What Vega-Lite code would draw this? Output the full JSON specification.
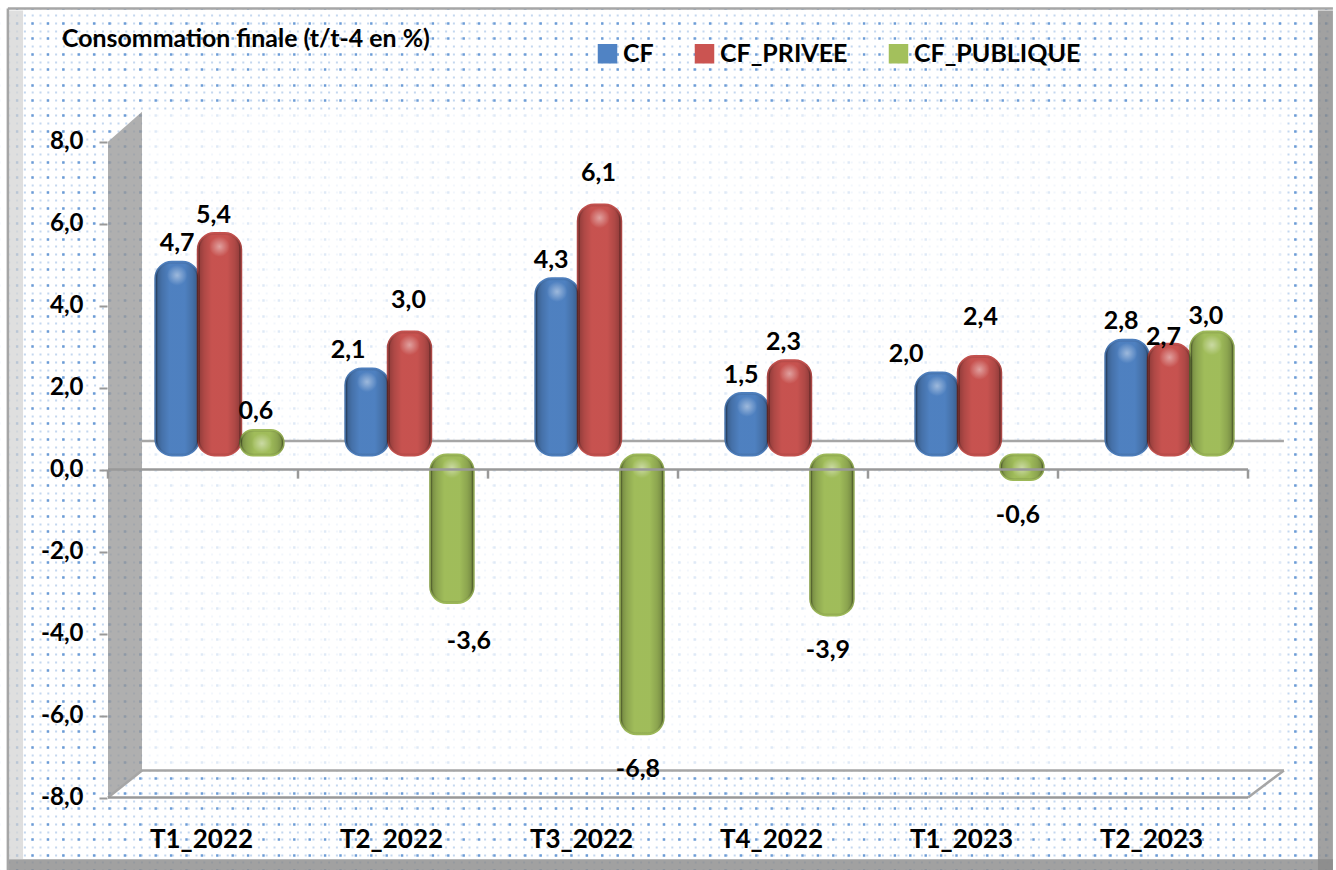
{
"$schema":"https://vega.github.io/schema/vega-lite/v6.json",
"width":1336,"height":870,"padding":0,"autosize":"none","background":"#ffffff",
"title":{"text":"Consommation finale (t/t-4 en %)","anchor":"start","frame":"group","dx":62,"offset":-65,"fontSize":24.9,"font":"Lato","fontWeight":"bold","baseline":"middle","color":"#000000"},
"config":{"view":{"stroke":null},"text":{"font":"Lato","fontWeight":"bold","fontSize":25,"color":"#000000","baseline":"middle","align":"center"}},
"datasets":{
"obs":[
{"period":"T1_2022","series":"CF","value":4.7,"label":"4,7"},
{"period":"T1_2022","series":"CF_PRIVEE","value":5.4,"label":"5,4"},
{"period":"T1_2022","series":"CF_PUBLIQUE","value":0.6,"label":"0,6"},
{"period":"T2_2022","series":"CF","value":2.1,"label":"2,1"},
{"period":"T2_2022","series":"CF_PRIVEE","value":3.0,"label":"3,0"},
{"period":"T2_2022","series":"CF_PUBLIQUE","value":-3.6,"label":"-3,6"},
{"period":"T3_2022","series":"CF","value":4.3,"label":"4,3"},
{"period":"T3_2022","series":"CF_PRIVEE","value":6.1,"label":"6,1"},
{"period":"T3_2022","series":"CF_PUBLIQUE","value":-6.8,"label":"-6,8"},
{"period":"T4_2022","series":"CF","value":1.5,"label":"1,5"},
{"period":"T4_2022","series":"CF_PRIVEE","value":2.3,"label":"2,3"},
{"period":"T4_2022","series":"CF_PUBLIQUE","value":-3.9,"label":"-3,9"},
{"period":"T1_2023","series":"CF","value":2.0,"label":"2,0"},
{"period":"T1_2023","series":"CF_PRIVEE","value":2.4,"label":"2,4"},
{"period":"T1_2023","series":"CF_PUBLIQUE","value":-0.6,"label":"-0,6"},
{"period":"T2_2023","series":"CF","value":2.8,"label":"2,8"},
{"period":"T2_2023","series":"CF_PRIVEE","value":2.7,"label":"2,7"},
{"period":"T2_2023","series":"CF_PUBLIQUE","value":3.0,"label":"3,0"}
],
"panels":[
{"part":"margin","x":-0.568,"x2":-0.527,"y":-9.776,"y2":11.459},
{"part":"margin","x":-0.568,"x2":6.463,"y":11.25,"y2":11.459},
{"part":"margin","x":6.447,"x2":6.463,"y":-9.776,"y2":11.459},
{"part":"left","x":-0.521,"x2":-0.447,"y":-9.5,"y2":11.2},
{"part":"right","x":6.368,"x2":6.447,"y":-9.776,"y2":11.2},
{"part":"bottom","x":-0.521,"x2":6.447,"y":-9.776,"y2":-9.507},
{"part":"wall","x":0.179,"x2":6.189,"y":-7.34,"y2":8.73}
],
"side":[{"x":0,"y":8,"y2":-8},{"x":0.179,"y":8.73,"y2":-7.34}],
"edges":[
{"part":"frame","x":-0.527,"x2":-0.527,"y":-9.776,"y2":11.25},
{"part":"frame","x":-0.527,"x2":6.447,"y":11.25,"y2":11.25},
{"part":"back","x":0.179,"x2":6.189,"y":0.698,"y2":0.698},
{"part":"back","x":0.179,"x2":6.189,"y":-7.34,"y2":-7.34},
{"part":"back","x":6,"x2":6.189,"y":-8,"y2":-7.34},
{"part":"back","x":0,"x2":0.179,"y":-8,"y2":-7.34},
{"part":"front","x":0,"x2":6,"y":0,"y2":0},
{"part":"front","x":0,"x2":6,"y":-8,"y2":-8},
{"part":"front","x":0,"x2":0,"y":0,"y2":-0.22},
{"part":"front","x":1,"x2":1,"y":0,"y2":-0.22},
{"part":"front","x":2,"x2":2,"y":0,"y2":-0.22},
{"part":"front","x":3,"x2":3,"y":0,"y2":-0.22},
{"part":"front","x":4,"x2":4,"y":0,"y2":-0.22},
{"part":"front","x":5,"x2":5,"y":0,"y2":-0.22},
{"part":"front","x":6,"x2":6,"y":0,"y2":-0.22}
]
},
"resolve":{"scale":{"x":"independent","y":"independent","xOffset":"independent","color":"independent","stroke":"independent"}},
"layer":[
{"data":{"name":"edges"},"mark":{"type":"rule","opacity":0},
 "encoding":{"y":{"field":"y","type":"quantitative","scale":{"domain":[0,1130],"range":[870,0]},
 "axis":{"orient":"left","grid":true,"gridColor":"#c4d7ef","gridWidth":2,"gridDash":[2,5.8],"domain":false,"ticks":false,"labels":false,"title":null,"tickCount":113}}}},
{"data":{"name":"edges"},"mark":{"type":"rule","opacity":0},
 "encoding":{"y":{"field":"y","type":"quantitative","scale":{"domain":[0,565],"range":[870,0]},
 "axis":{"orient":"left","grid":true,"gridColor":"#6c9cd6","gridWidth":2.4,"gridDash":[2.4,13],"domain":false,"ticks":false,"labels":false,"title":null,"tickCount":56}}}},
{"data":{"name":"panels"},"transform":[{"filter":"datum.part=='margin'"}],"mark":{"type":"rect","fill":"#ffffff"},
 "encoding":{"x":{"field":"x","type":"quantitative","scale":{"domain":[0,6],"range":[108,1248]},"axis":null},"x2":{"field":"x2"},"y":{"field":"y","type":"quantitative","scale":{"domain":[-8,8],"range":[797.5,141.7]},"axis":null},"y2":{"field":"y2"}}},
{"data":{"name":"panels"},"transform":[{"filter":"datum.part=='left'"}],"mark":{"type":"rect","fill":"#d4d4d4","opacity":0.75},
 "encoding":{"x":{"field":"x","type":"quantitative","scale":{"domain":[0,6],"range":[108,1248]},"axis":null},"x2":{"field":"x2"},"y":{"field":"y","type":"quantitative","scale":{"domain":[-8,8],"range":[797.5,141.7]},"axis":null},"y2":{"field":"y2"}}},
{"data":{"name":"panels"},"transform":[{"filter":"datum.part=='right'||datum.part=='bottom'"}],"mark":{"type":"rect","fill":"#8a8a8a","opacity":0.8},
 "encoding":{"x":{"field":"x","type":"quantitative","scale":{"domain":[0,6],"range":[108,1248]},"axis":null},"x2":{"field":"x2"},"y":{"field":"y","type":"quantitative","scale":{"domain":[-8,8],"range":[797.5,141.7]},"axis":null},"y2":{"field":"y2"}}},
{"data":{"name":"panels"},"transform":[{"filter":"datum.part=='wall'"}],"mark":{"type":"rect","fill":"#ffffff","opacity":0.78},
 "encoding":{"x":{"field":"x","type":"quantitative","scale":{"domain":[0,6],"range":[108,1248]},"axis":null},"x2":{"field":"x2"},"y":{"field":"y","type":"quantitative","scale":{"domain":[-8,8],"range":[797.5,141.7]},"axis":null},"y2":{"field":"y2"}}},
{"data":{"name":"side"},"mark":{"type":"area","orient":"vertical","fill":"#989898","opacity":0.78},
 "encoding":{"x":{"field":"x","type":"quantitative","scale":{"domain":[0,6],"range":[108,1248]},"axis":null},"y":{"field":"y","type":"quantitative","scale":{"domain":[-8,8],"range":[797.5,141.7]},"axis":null},"y2":{"field":"y2"}}},
{"data":{"name":"edges"},"transform":[{"filter":"datum.part=='back'||datum.part=='frame'"}],"mark":{"type":"rule","color":"#a6a6a6","strokeWidth":2.5},
 "encoding":{"x":{"field":"x","type":"quantitative","scale":{"domain":[0,6],"range":[108,1248]},"axis":null},"x2":{"field":"x2"},"y":{"field":"y","type":"quantitative","scale":{"domain":[-8,8],"range":[797.5,141.7]},"axis":null},"y2":{"field":"y2"}}},
{"data":{"name":"obs"},"mark":{"type":"bar","cornerRadius":16,"strokeWidth":3},
 "encoding":{
 "x":{"field":"period","type":"nominal","sort":null,"scale":{"domain":["T1_2022","T2_2022","T3_2022","T4_2022","T1_2023","T2_2023"],"range":[124.5,1264.5],"paddingInner":0.33,"paddingOuter":0.165},
   "axis":{"orient":"bottom","offset":-44,"domain":false,"ticks":false,"labelAngle":0,"labelFont":"Lato","labelFontWeight":"bold","labelFontSize":26,"labelColor":"#000000","labelPadding":0,"labelBaseline":"top","labelOffset":-18,"title":null,"grid":false}},
 "xOffset":{"field":"series","type":"nominal","sort":null,"scale":{"domain":["CF","CF_PRIVEE","CF_PUBLIQUE"],"paddingInner":0,"paddingOuter":0}},
 "y":{"field":"value","type":"quantitative","scale":{"domain":[-8,8],"range":[783,127]},"axis":null},
 "stroke":{"field":"series","type":"nominal","sort":null,"scale":{"domain":["CF","CF_PRIVEE","CF_PUBLIQUE"],"range":["#5083c4","#cb5451","#a3c05c"]},"legend":null},
 "color":{"field":"series","type":"nominal","sort":null,"scale":{"domain":["CF","CF_PRIVEE","CF_PUBLIQUE"],"range":["#5083c4","#cb5451","#a3c05c"]},
  "legend":{"orient":"none","legendX":595,"legendY":41,"direction":"horizontal","columns":3,"title":null,"symbolType":"square","symbolSize":324,"symbolOpacity":1,"labelFont":"Lato","labelFontWeight":"bold","labelFontSize":25,"labelColor":"#000000","labelOffset":3,"labelLimit":400,"columnPadding":38,"padding":0}}
 }},
{"data":{"name":"obs"},"mark":{"type":"bar","cornerRadius":16,"strokeWidth":3,
  "fill":{"gradient":"linear","x1":0,"y1":0,"x2":1,"y2":0,"stops":[{"offset":0,"color":"rgba(0,0,0,0.3)"},{"offset":0.14,"color":"rgba(0,0,0,0.14)"},{"offset":0.32,"color":"rgba(0,0,0,0.02)"},{"offset":0.68,"color":"rgba(0,0,0,0.02)"},{"offset":0.86,"color":"rgba(0,0,0,0.14)"},{"offset":1,"color":"rgba(0,0,0,0.3)"}]},
  "stroke":{"gradient":"linear","x1":0,"y1":0,"x2":1,"y2":0,"stops":[{"offset":0,"color":"rgba(0,0,0,0.16)"},{"offset":0.14,"color":"rgba(0,0,0,0.04)"},{"offset":0.86,"color":"rgba(0,0,0,0.04)"},{"offset":1,"color":"rgba(0,0,0,0.16)"}]}},
 "encoding":{
 "x":{"field":"period","type":"nominal","sort":null,"scale":{"domain":["T1_2022","T2_2022","T3_2022","T4_2022","T1_2023","T2_2023"],"range":[124.5,1264.5],"paddingInner":0.33,"paddingOuter":0.165},"axis":null},
 "xOffset":{"field":"series","type":"nominal","sort":null,"scale":{"domain":["CF","CF_PRIVEE","CF_PUBLIQUE"],"paddingInner":0,"paddingOuter":0}},
 "y":{"field":"value","type":"quantitative","scale":{"domain":[-8,8],"range":[783,127]},"axis":null}
 }},
{"data":{"name":"obs"},"transform":[{"calculate":"max(datum.value,0)","as":"top"}],"mark":{"type":"circle","size":420,"opacity":1,
  "fill":{"gradient":"radial","x1":0.5,"y1":0.5,"r1":0,"x2":0.5,"y2":0.5,"r2":0.5,"stops":[{"offset":0,"color":"rgba(255,255,255,0.45)"},{"offset":1,"color":"rgba(255,255,255,0)"}]}},
 "encoding":{
 "x":{"field":"period","type":"nominal","sort":null,"scale":{"domain":["T1_2022","T2_2022","T3_2022","T4_2022","T1_2023","T2_2023"],"range":[124.5,1264.5],"paddingInner":0.33,"paddingOuter":0.165},"axis":null},
 "xOffset":{"field":"series","type":"nominal","sort":null,"scale":{"type":"point","domain":["CF","CF_PRIVEE","CF_PUBLIQUE"],"padding":0.5}},
 "y":{"field":"top","type":"quantitative","scale":{"domain":[-8,8],"range":[796,140]},"axis":null}
 }},
{"data":{"name":"edges"},"transform":[{"filter":"datum.part=='front'"}],"mark":{"type":"rule","color":"#999999","strokeWidth":2.5},
 "encoding":{"x":{"field":"x","type":"quantitative","scale":{"domain":[0,6],"range":[108,1248]},"axis":null},"x2":{"field":"x2"},"y":{"field":"y","type":"quantitative","scale":{"domain":[-8,8],"range":[797.5,141.7]},
   "axis":{"orient":"left","offset":-107,"values":[-8,-6,-4,-2,0,2,4,6,8],"labelExpr":"replace(replace(format(datum.value,'.1f'),'.',','),'−','-')","domain":false,"grid":false,"tickColor":"#999999","tickWidth":2,"tickSize":8,"labelPadding":16,"labelFont":"Lato","labelFontWeight":"bold","labelFontSize":24,"labelColor":"#000000","title":null}},"y2":{"field":"y2"}}},
{"data":{"name":"obs"},"transform":[{"filter":"indexof(['T1_2022|CF_PRIVEE','T1_2022|CF_PUBLIQUE','T3_2022|CF','T4_2022|CF','T4_2022|CF_PRIVEE','T2_2023|CF'],datum.period+'|'+datum.series)>=0"}],"mark":{"type":"text","dx":-6,"dy":-19},
 "encoding":{"x":{"field":"period","type":"nominal","sort":null,"scale":{"domain":["T1_2022","T2_2022","T3_2022","T4_2022","T1_2023","T2_2023"],"range":[124.5,1264.5],"paddingInner":0.33,"paddingOuter":0.165},"axis":null},"xOffset":{"field":"series","type":"nominal","sort":null,"scale":{"type":"point","domain":["CF","CF_PRIVEE","CF_PUBLIQUE"],"padding":0.5}},"y":{"field":"value","type":"quantitative","scale":{"domain":[-8,8],"range":[783,127]},"axis":null},"text":{"field":"label"}}},
{"data":{"name":"obs"},"transform":[{"filter":"datum.period=='T2_2023'&&datum.series=='CF_PUBLIQUE'"}],"mark":{"type":"text","dx":-6,"dy":-16},
 "encoding":{"x":{"field":"period","type":"nominal","sort":null,"scale":{"domain":["T1_2022","T2_2022","T3_2022","T4_2022","T1_2023","T2_2023"],"range":[124.5,1264.5],"paddingInner":0.33,"paddingOuter":0.165},"axis":null},"xOffset":{"field":"series","type":"nominal","sort":null,"scale":{"type":"point","domain":["CF","CF_PRIVEE","CF_PUBLIQUE"],"padding":0.5}},"y":{"field":"value","type":"quantitative","scale":{"domain":[-8,8],"range":[783,127]},"axis":null},"text":{"field":"label"}}},
{"data":{"name":"obs"},"transform":[{"filter":"datum.period=='T1_2022'&&datum.series=='CF'"}],"mark":{"type":"text","dx":0,"dy":-19},
 "encoding":{"x":{"field":"period","type":"nominal","sort":null,"scale":{"domain":["T1_2022","T2_2022","T3_2022","T4_2022","T1_2023","T2_2023"],"range":[124.5,1264.5],"paddingInner":0.33,"paddingOuter":0.165},"axis":null},"xOffset":{"field":"series","type":"nominal","sort":null,"scale":{"type":"point","domain":["CF","CF_PRIVEE","CF_PUBLIQUE"],"padding":0.5}},"y":{"field":"value","type":"quantitative","scale":{"domain":[-8,8],"range":[783,127]},"axis":null},"text":{"field":"label"}}},
{"data":{"name":"obs"},"transform":[{"filter":"datum.series=='CF_PRIVEE'&&(datum.period=='T2_2022'||datum.period=='T3_2022')"}],"mark":{"type":"text","dx":-1,"dy":-32},
 "encoding":{"x":{"field":"period","type":"nominal","sort":null,"scale":{"domain":["T1_2022","T2_2022","T3_2022","T4_2022","T1_2023","T2_2023"],"range":[124.5,1264.5],"paddingInner":0.33,"paddingOuter":0.165},"axis":null},"xOffset":{"field":"series","type":"nominal","sort":null,"scale":{"type":"point","domain":["CF","CF_PRIVEE","CF_PUBLIQUE"],"padding":0.5}},"y":{"field":"value","type":"quantitative","scale":{"domain":[-8,8],"range":[783,127]},"axis":null},"text":{"field":"label"}}},
{"data":{"name":"obs"},"transform":[{"filter":"datum.series=='CF_PRIVEE'&&datum.period=='T1_2023'"}],"mark":{"type":"text","dx":1,"dy":-40},
 "encoding":{"x":{"field":"period","type":"nominal","sort":null,"scale":{"domain":["T1_2022","T2_2022","T3_2022","T4_2022","T1_2023","T2_2023"],"range":[124.5,1264.5],"paddingInner":0.33,"paddingOuter":0.165},"axis":null},"xOffset":{"field":"series","type":"nominal","sort":null,"scale":{"type":"point","domain":["CF","CF_PRIVEE","CF_PUBLIQUE"],"padding":0.5}},"y":{"field":"value","type":"quantitative","scale":{"domain":[-8,8],"range":[783,127]},"axis":null},"text":{"field":"label"}}},
{"data":{"name":"obs"},"transform":[{"filter":"datum.series=='CF'&&datum.period=='T2_2022'"}],"mark":{"type":"text","dx":-19,"dy":-19},
 "encoding":{"x":{"field":"period","type":"nominal","sort":null,"scale":{"domain":["T1_2022","T2_2022","T3_2022","T4_2022","T1_2023","T2_2023"],"range":[124.5,1264.5],"paddingInner":0.33,"paddingOuter":0.165},"axis":null},"xOffset":{"field":"series","type":"nominal","sort":null,"scale":{"type":"point","domain":["CF","CF_PRIVEE","CF_PUBLIQUE"],"padding":0.5}},"y":{"field":"value","type":"quantitative","scale":{"domain":[-8,8],"range":[783,127]},"axis":null},"text":{"field":"label"}}},
{"data":{"name":"obs"},"transform":[{"filter":"datum.series=='CF'&&datum.period=='T1_2023'"}],"mark":{"type":"text","dx":-31,"dy":-19},
 "encoding":{"x":{"field":"period","type":"nominal","sort":null,"scale":{"domain":["T1_2022","T2_2022","T3_2022","T4_2022","T1_2023","T2_2023"],"range":[124.5,1264.5],"paddingInner":0.33,"paddingOuter":0.165},"axis":null},"xOffset":{"field":"series","type":"nominal","sort":null,"scale":{"type":"point","domain":["CF","CF_PRIVEE","CF_PUBLIQUE"],"padding":0.5}},"y":{"field":"value","type":"quantitative","scale":{"domain":[-8,8],"range":[783,127]},"axis":null},"text":{"field":"label"}}},
{"data":{"name":"obs"},"transform":[{"filter":"datum.series=='CF_PRIVEE'&&datum.period=='T2_2023'"}],"mark":{"type":"text","dx":-6,"dy":-7},
 "encoding":{"x":{"field":"period","type":"nominal","sort":null,"scale":{"domain":["T1_2022","T2_2022","T3_2022","T4_2022","T1_2023","T2_2023"],"range":[124.5,1264.5],"paddingInner":0.33,"paddingOuter":0.165},"axis":null},"xOffset":{"field":"series","type":"nominal","sort":null,"scale":{"type":"point","domain":["CF","CF_PRIVEE","CF_PUBLIQUE"],"padding":0.5}},"y":{"field":"value","type":"quantitative","scale":{"domain":[-8,8],"range":[783,127]},"axis":null},"text":{"field":"label"}}},
{"data":{"name":"obs"},"transform":[{"filter":"datum.value<0&&datum.period!='T2_2022'"}],"mark":{"type":"text","dx":-4,"dy":35},
 "encoding":{"x":{"field":"period","type":"nominal","sort":null,"scale":{"domain":["T1_2022","T2_2022","T3_2022","T4_2022","T1_2023","T2_2023"],"range":[124.5,1264.5],"paddingInner":0.33,"paddingOuter":0.165},"axis":null},"xOffset":{"field":"series","type":"nominal","sort":null,"scale":{"type":"point","domain":["CF","CF_PRIVEE","CF_PUBLIQUE"],"padding":0.5}},"y":{"field":"value","type":"quantitative","scale":{"domain":[-8,8],"range":[783,127]},"axis":null},"text":{"field":"label"}}},
{"data":{"name":"obs"},"transform":[{"filter":"datum.value<0&&datum.period=='T2_2022'"}],"mark":{"type":"text","dx":17,"dy":38},
 "encoding":{"x":{"field":"period","type":"nominal","sort":null,"scale":{"domain":["T1_2022","T2_2022","T3_2022","T4_2022","T1_2023","T2_2023"],"range":[124.5,1264.5],"paddingInner":0.33,"paddingOuter":0.165},"axis":null},"xOffset":{"field":"series","type":"nominal","sort":null,"scale":{"type":"point","domain":["CF","CF_PRIVEE","CF_PUBLIQUE"],"padding":0.5}},"y":{"field":"value","type":"quantitative","scale":{"domain":[-8,8],"range":[783,127]},"axis":null},"text":{"field":"label"}}}
]
}
